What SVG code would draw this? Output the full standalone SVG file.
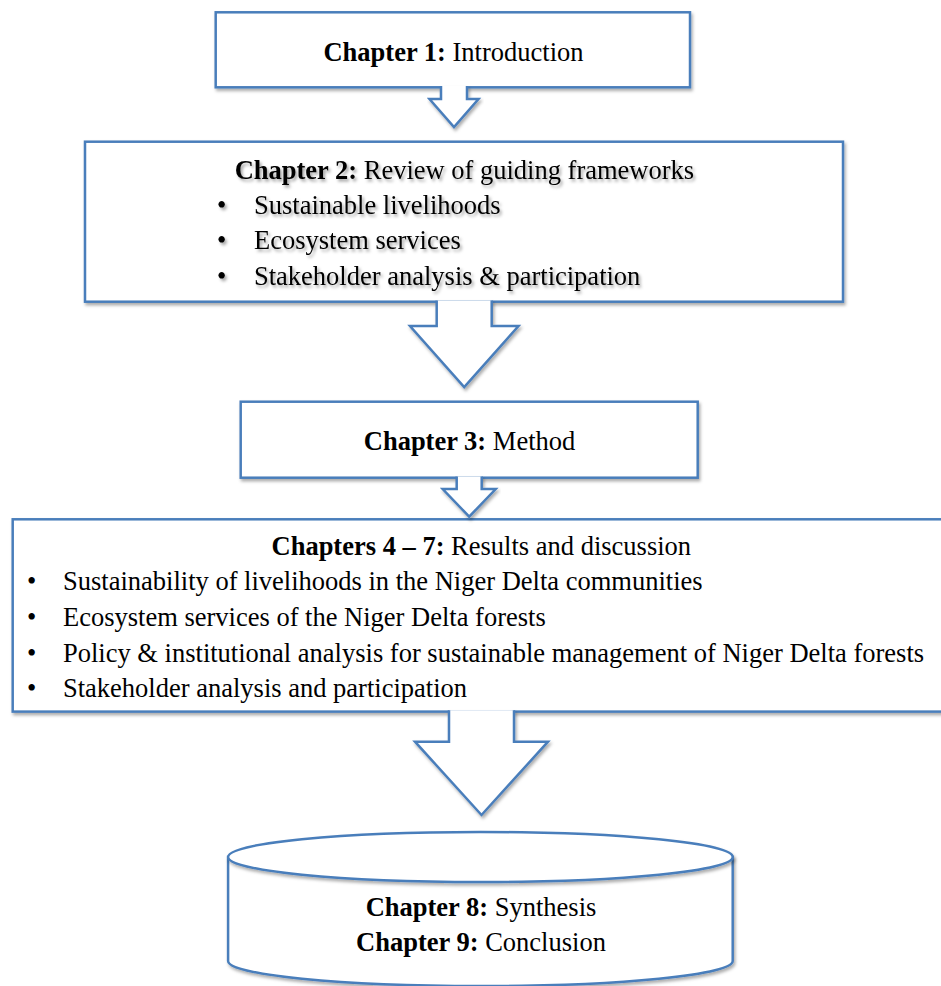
<svg xmlns="http://www.w3.org/2000/svg" width="941" height="986" viewBox="0 0 941 986">
  <defs>
    <filter id="shapeShadow" x="-5%" y="-10%" width="115%" height="130%">
      <feDropShadow dx="1.5" dy="2.5" stdDeviation="1.8" flood-color="#000" flood-opacity="0.32"/>
    </filter>
    <filter id="textShadow" x="-5%" y="-20%" width="115%" height="150%">
      <feDropShadow dx="2" dy="2.5" stdDeviation="1.6" flood-color="#000" flood-opacity="0.35"/>
    </filter>
  </defs>
  <style>
    .shape { fill: #ffffff; stroke: #4a7ebb; stroke-width: 2.5; filter: url(#shapeShadow); }
    .arrow { fill: #ffffff; stroke: #4a7ebb; stroke-width: 2.5; stroke-linejoin: miter; filter: url(#shapeShadow); }
    .label { font-family: "Liberation Serif", "Times New Roman", serif; font-size: 26.5px; fill: #000; }
    .b { font-weight: bold; }
    .mid { text-anchor: middle; }
    .shadowed { filter: url(#textShadow); }
  </style>

  <rect width="941" height="986" fill="#ffffff"/>

  <!-- Chapter 1 -->
  <g id="chapter1">
    <rect class="shape" x="215.7" y="12.3" width="474.3" height="75"/>
    <text class="label mid" x="453.5" y="60.5"><tspan class="b">Chapter 1:</tspan> Introduction</text>
  </g>

  <!-- Chapter 2 -->
  <g id="chapter2">
    <rect class="shape" x="85" y="141.7" width="758" height="160"/>
    <g class="shadowed">
      <text class="label mid" x="464.4" y="179"><tspan class="b">Chapter 2:</tspan> Review of guiding frameworks</text>
      <text class="label" x="217" y="214">•</text>
      <text class="label" x="254" y="214">Sustainable livelihoods</text>
      <text class="label" x="217" y="249">•</text>
      <text class="label" x="254" y="249">Ecosystem services</text>
      <text class="label" x="217" y="284.5">•</text>
      <text class="label" x="254" y="284.5">Stakeholder analysis &amp; participation</text>
    </g>
  </g>

  <!-- Chapter 3 -->
  <g id="chapter3">
    <rect class="shape" x="240.7" y="401.7" width="457" height="76"/>
    <text class="label mid" x="469.5" y="450"><tspan class="b">Chapter 3:</tspan> Method</text>
  </g>

  <!-- Chapters 4 to 7 -->
  <g id="chapters4to7">
    <rect class="shape" x="12.7" y="519.3" width="937.3" height="192.3"/>
    <text class="label mid" x="481.3" y="555"><tspan class="b">Chapters 4 – 7:</tspan> Results and discussion</text>
    <text class="label" x="27" y="590">•</text>
    <text class="label" x="63" y="590">Sustainability of livelihoods in the Niger Delta communities</text>
    <text class="label" x="27" y="626">•</text>
    <text class="label" x="63" y="626">Ecosystem services of the Niger Delta forests</text>
    <text class="label" x="27" y="661.5">•</text>
    <text class="label" x="63" y="661.5">Policy &amp; institutional analysis for sustainable management of Niger Delta forests</text>
    <text class="label" x="27" y="697">•</text>
    <text class="label" x="63" y="697">Stakeholder analysis and participation</text>
  </g>

  <!-- Chapters 8 and 9: cylinder -->
  <g id="chapters8and9">
    <path class="shape" d="M228.1,857 V961 A252.3,25 0 0 0 732.7,961 V857 Z"/>
    <ellipse class="shape" cx="480.4" cy="857" rx="252.3" ry="25"/>
    <text class="label mid" x="481" y="916"><tspan class="b">Chapter 8:</tspan> Synthesis</text>
    <text class="label mid" x="481" y="951"><tspan class="b">Chapter 9:</tspan> Conclusion</text>
  </g>

  <!-- Block arrows between chapters -->
  <g id="connectors">
    <path class="arrow" d="M441,86.05 V99 H429.5 L454,127 L478.5,99 H467 V86.05"/>
    <path class="arrow" d="M436.7,300.45 V326 H410 L464.2,387 L518.5,326 H491.7 V300.45"/>
    <path class="arrow" d="M456.7,476.45 V489 H442.7 L469.2,516.7 L495.7,489 H481.7 V476.45"/>
    <path class="arrow" d="M449,710.35 V741.7 H415 L481.5,815 L548,741.7 H514 V710.35"/>
  </g>
</svg>
